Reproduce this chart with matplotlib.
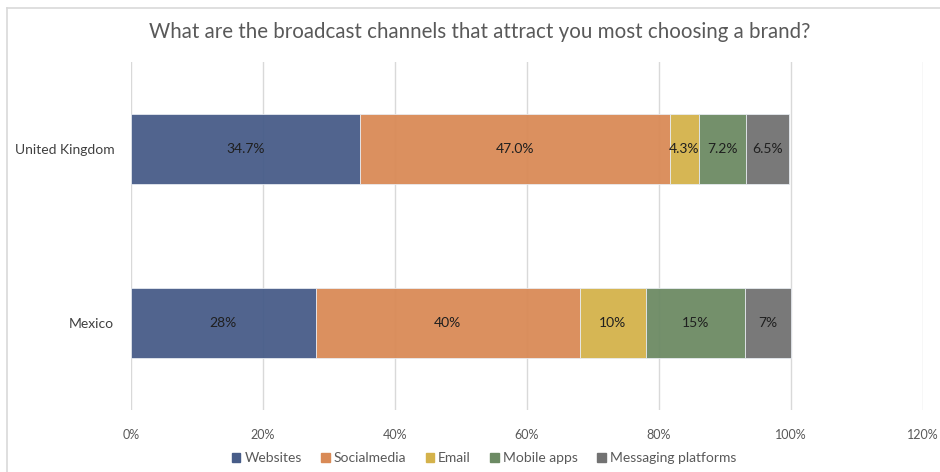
import matplotlib.pyplot as plt
import matplotlib.patches as mpatches
import numpy as np

plt.rcParams['font.family'] = ['Lato', 'DejaVu Sans']

# data
countries = ["Mexico", "United Kingdom"]
channels = ["Websites", "Socialmedia", "Email", "Mobile apps", "Messaging platforms"]
mexico = [28, 40, 10, 15, 7]
uk = [34.7, 47.0, 4.3, 7.2, 6.5]
mexico_labels = ["28%", "40%", "10%", "15%", "7%"]
uk_labels = ["34.7%", "47.0%", "4.3%", "7.2%", "6.5%"]
colors = ["#475c88", "#d98a56", "#d4b24b", "#6c8a63", "#727272"]

fig = plt.figure(figsize=(9.4, 4.72), dpi=100)
ax = fig.add_axes([131 / 940, 1 - 410 / 472, (923 - 131) / 940, 348 / 472])

# border round the chart area
fig.add_artist(plt.Line2D([7 / 940, 7 / 940], [0, 1 - 8 / 472], transform=fig.transFigure, color="#d9d9d9", lw=1.2))
fig.add_artist(plt.Line2D([7 / 940, 1], [1 - 8 / 472, 1 - 8 / 472], transform=fig.transFigure, color="#d9d9d9", lw=1.2))

y = np.arange(len(countries))
data = np.array([mexico, uk]) / 100
labels = [mexico_labels, uk_labels]
left = np.zeros(len(countries))
for i, ch in enumerate(channels):
    vals = data[:, i]
    ax.barh(y, vals, left=left, height=0.4, color=colors[i], alpha=0.95,
            edgecolor="#e8ecf2", linewidth=0.6, zorder=2, label=ch)
    for j in range(len(countries)):
        ax.text(left[j] + vals[j] / 2, y[j], labels[j][i], ha="center", va="center",
                fontsize=10, color="#1f1f1f", zorder=3)
    left += vals

ax.set_xlim(0, 1.2)
ax.set_ylim(-0.5, 1.5)
ax.set_xticks(np.arange(0, 1.21, 0.2))
ax.set_xticklabels([f"{int(round(t * 100))}%" for t in np.arange(0, 1.21, 0.2)])
ax.set_yticks(y)
ax.set_yticklabels(countries)
ax.tick_params(axis="x", length=0, labelsize=9, labelcolor="#595959", pad=14)
ax.tick_params(axis="y", length=0, labelsize=10, labelcolor="#404040", pad=12)
ax.grid(axis="x", color="#d9d9d9", lw=1, zorder=0)
ax.set_axisbelow(True)
for s in ax.spines.values():
    s.set_visible(False)

fig.text(480 / 940, 1 - 32 / 472, "What are the broadcast channels that attract you most choosing a brand?",
         ha="center", va="center", fontsize=14.8, color="#595959")

handles = [mpatches.Patch(color=c, label=ch) for c, ch in zip(colors, channels)]
fig.legend(handles=handles, loc="center", bbox_to_anchor=(484 / 940, 1 - 458 / 472), ncol=5,
           frameon=False, fontsize=10, handlelength=0.6, handleheight=0.6,
           handletextpad=0.3, columnspacing=1.4, labelcolor="#595959")

fig.savefig("out.png", dpi=100)
